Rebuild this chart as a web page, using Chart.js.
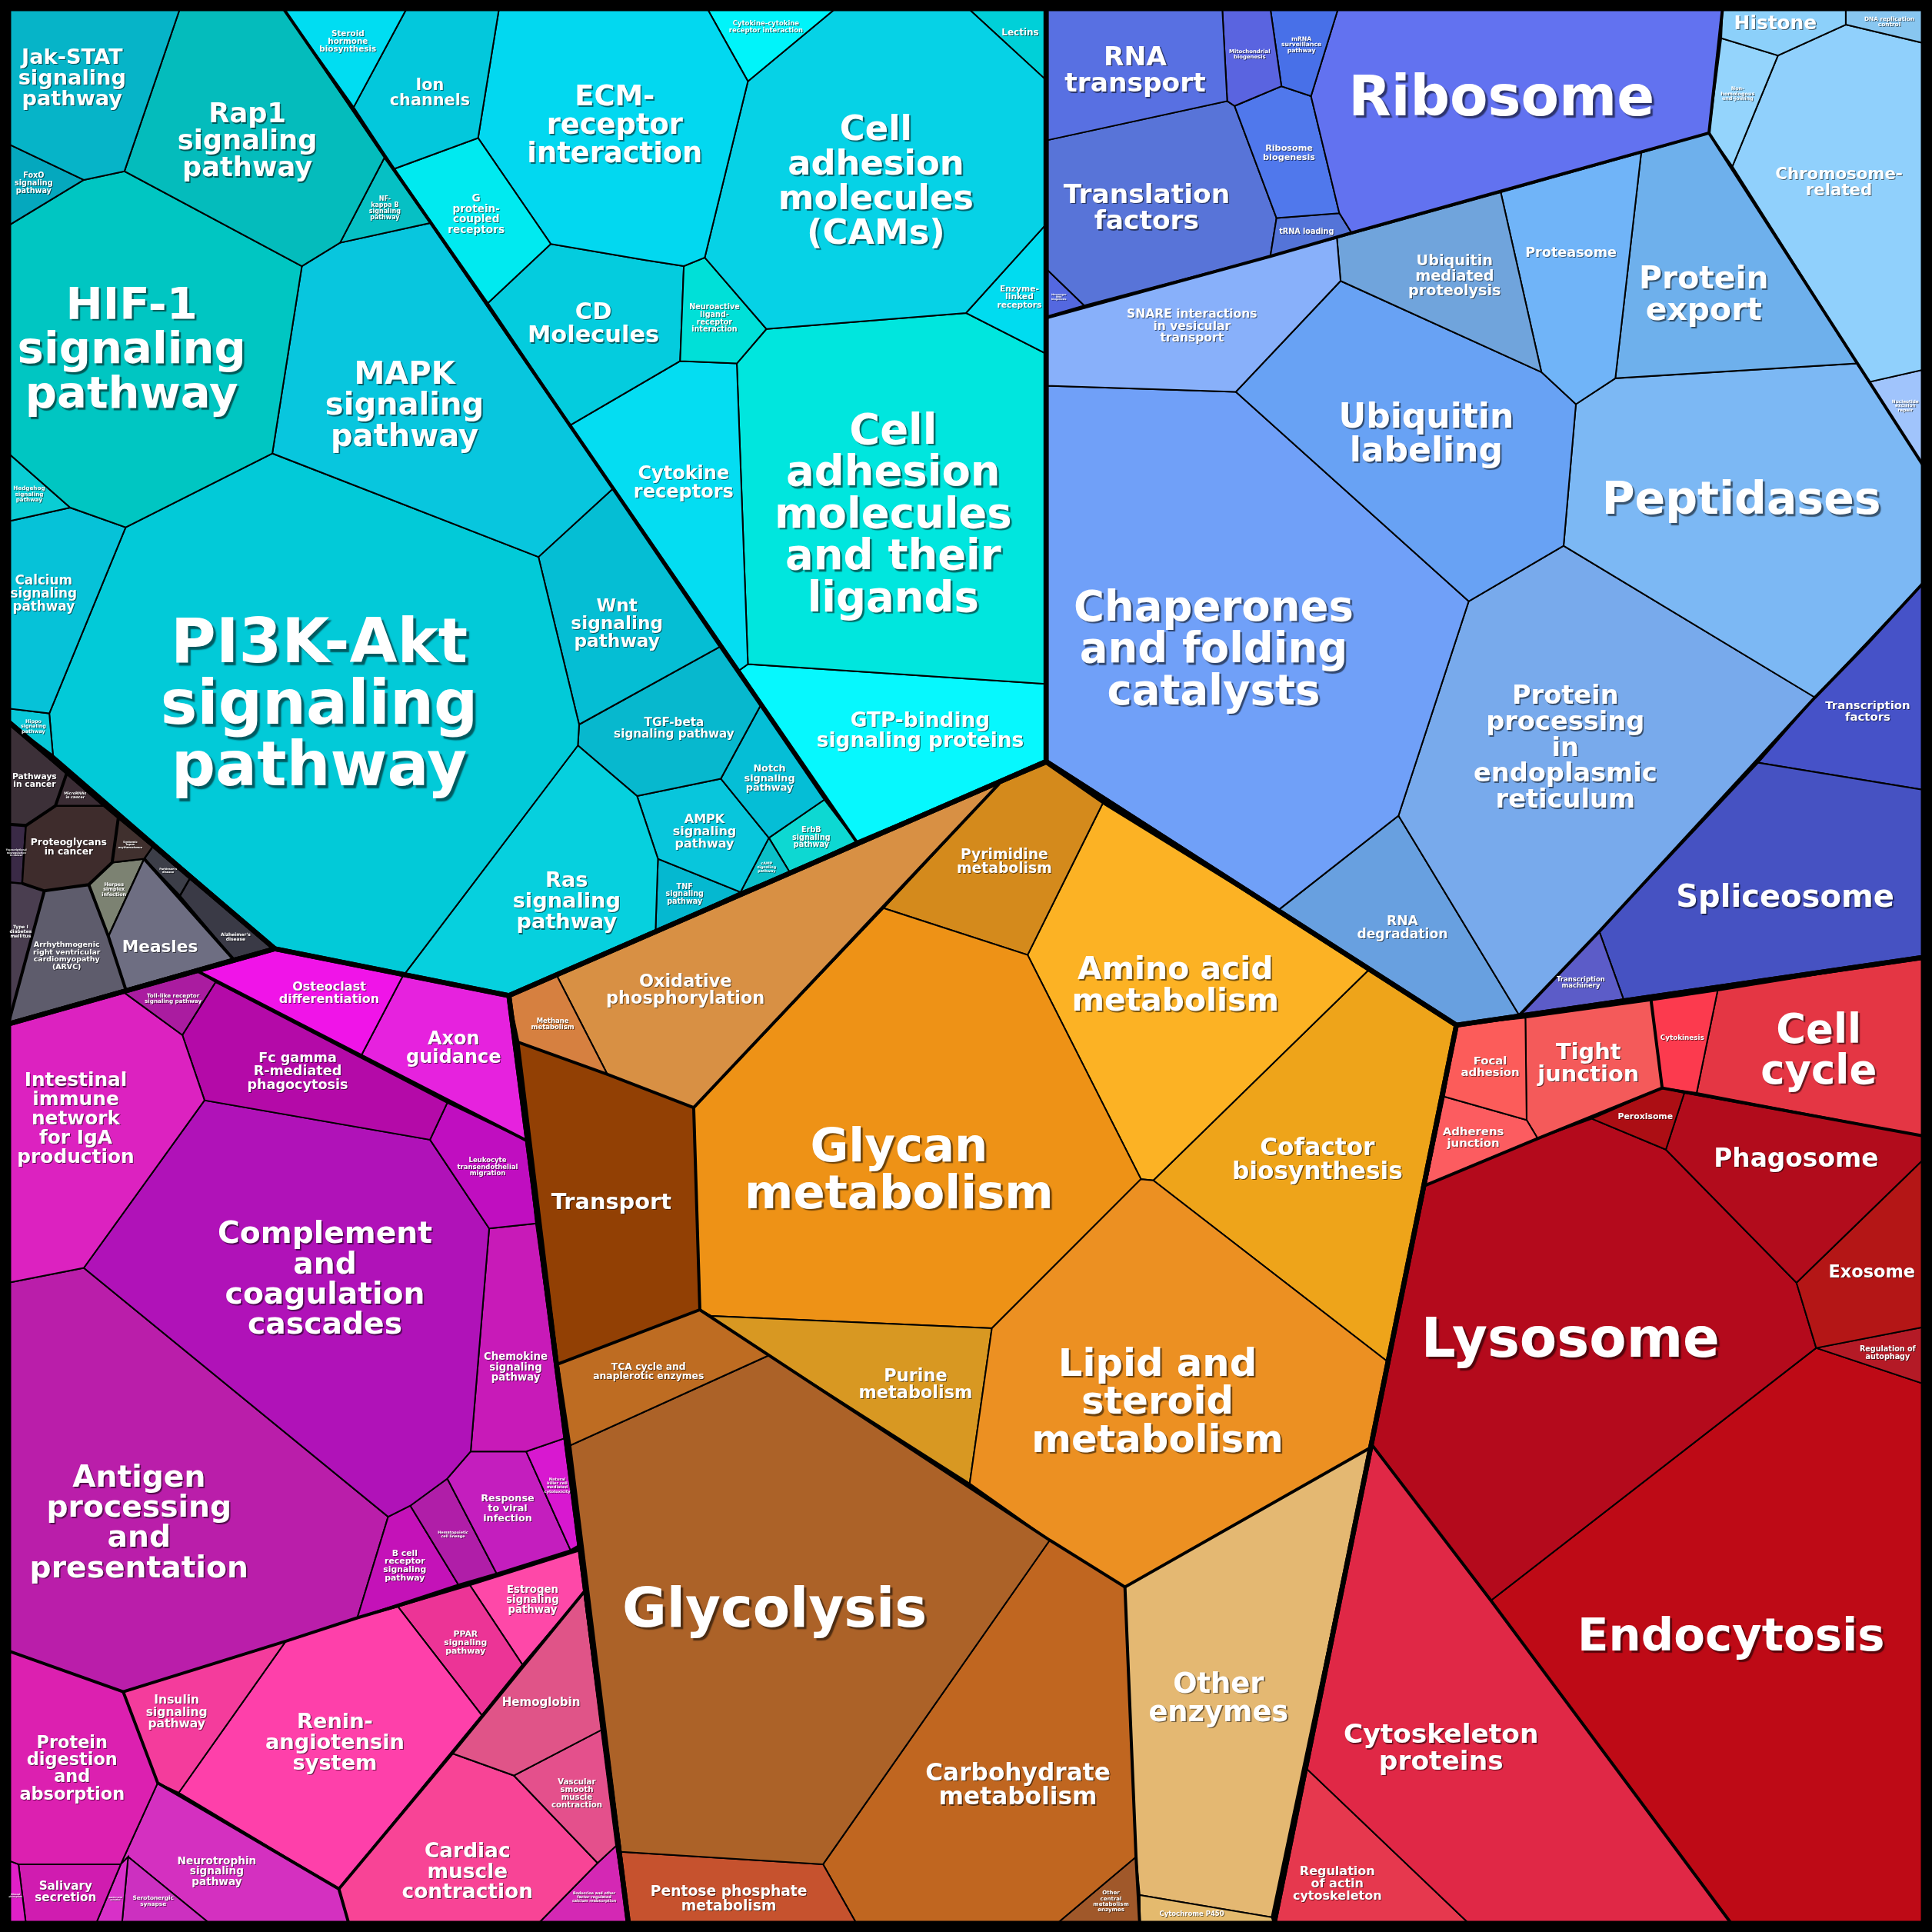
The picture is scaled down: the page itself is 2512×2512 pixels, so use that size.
<!DOCTYPE html>
<html>
<head>
<meta charset="utf-8">
<script src="https://cdn.jsdelivr.net/npm/chart.js@4.4.0/dist/chart.umd.min.js"></script>
<style>
html, body { margin: 0; padding: 0; background: #000; }
#wrap { width: 2512px; height: 2512px; }
</style>
</head>
<body>
<div id="wrap"><canvas id="map"></canvas></div>
<script>
// map units: the whole picture is 1568 x 1568, y grows downwards

// ---- signaling pathways ----
const signalingNames = [
  "Jak-STAT\nsignaling\npathway", "FoxO\nsignaling\npathway", "Rap1\nsignaling\npathway",
  "NF-\nkappa B\nsignaling\npathway", "HIF-1\nsignaling\npathway", "MAPK\nsignaling\npathway",
  "Hedgehog\nsignaling\npathway", "Calcium\nsignaling\npathway", "Hippo\nsignaling\npathway",
  "PI3K-Akt\nsignaling\npathway", "Wnt\nsignaling\npathway", "Ras\nsignaling\npathway",
  "TGF-beta\nsignaling pathway", "Notch\nsignaling\npathway", "AMPK\nsignaling\npathway",
  "TNF\nsignaling\npathway", "cAMP\nsignaling\npathway", "ErbB\nsignaling\npathway",
  "Steroid\nhormone\nbiosynthesis", "Ion\nchannels", "G\nprotein-\ncoupled\nreceptors",
  "ECM-\nreceptor\ninteraction", "Cytokine-cytokine\nreceptor interaction", "Cell\nadhesion\nmolecules\n(CAMs)",
  "Lectins", "Enzyme-\nlinked\nreceptors", "Neuroactive\nligand-\nreceptor\ninteraction",
  "CD\nMolecules", "Cytokine\nreceptors", "Cell\nadhesion\nmolecules\nand their\nligands",
  "GTP-binding\nsignaling proteins"
];
const signalingCells = [
  [[7,7],[146,7],[101,139],[68,146],[7,117]],
  [[7,117],[68,146],[7,183]],
  [[146,7],[230,7],[312,128],[276,197],[245,216],[101,139]],
  [[312,128],[349,181],[276,197]],
  [[7,183],[68,146],[101,139],[245,216],[221,368],[102,428],[57,412],[7,368]],
  [[245,216],[276,197],[349,181],[497,397],[437,452],[221,368]],
  [[7,368],[57,412],[7,423]],
  [[7,423],[57,412],[102,428],[63,523],[40,579],[7,575]],
  [[7,575],[40,579],[43,613],[7,586]],
  [[102,428],[221,368],[437,452],[470,588],[469,605],[328,791],[224,770],[43,613],[40,579],[63,523]],
  [[437,452],[497,397],[584,525],[470,588]],
  [[469,605],[517,646],[534,697],[532,756],[413,808],[328,791]],
  [[470,588],[584,525],[617,573],[585,632],[517,646],[469,605]],
  [[617,573],[669,649],[624,680],[585,632]],
  [[517,646],[585,632],[624,680],[601,724],[534,697]],
  [[534,697],[601,724],[532,756]],
  [[624,680],[641,708],[601,724]],
  [[624,680],[669,649],[695,683],[641,708]],
  [[230,7],[330,7],[287,87]],
  [[330,7],[405,7],[388,112],[320,137],[287,87]],
  [[320,137],[388,112],[447,198],[396,246]],
  [[405,7],[574,7],[607,66],[572,209],[555,216],[523,211],[447,198],[388,112]],
  [[574,7],[678,7],[607,66]],
  [[678,7],[786,7],[849,65],[849,182],[784,254],[622,267],[572,209],[607,66]],
  [[786,7],[849,7],[849,65]],
  [[849,182],[849,287],[784,254]],
  [[572,209],[622,267],[598,295],[552,293],[555,216]],
  [[396,246],[447,198],[523,211],[555,216],[552,293],[463,345]],
  [[463,345],[552,293],[598,295],[607,539],[600,544]],
  [[598,295],[622,267],[784,254],[849,287],[849,555],[607,539]],
  [[607,539],[849,555],[849,618],[695,683],[600,544]]
];

// ---- human diseases ----
const diseaseNames = [
  "Pathways\nin cancer", "MicroRNAs\nin cancer", "Proteoglycans\nin cancer",
  "Transcriptional\nmisregulation\nin cancer", "Systemic\nlupus\nerythematosus", "Parkinson's\ndisease",
  "Alzheimer's\ndisease", "Measles", "Herpes\nsimplex\ninfection",
  "Arrhythmogenic\nright ventricular\ncardiomyopathy\n(ARVC)", "Type I\ndiabetes\nmellitus"
];
const diseaseCells = [
  [[7,586],[54,628],[45,654],[21,670],[7,669]],
  [[54,628],[84,654],[45,654]],
  [[21,670],[45,654],[84,654],[96,664],[91,700],[72,718],[36,723],[18,717]],
  [[7,669],[21,670],[18,717],[7,716]],
  [[96,664],[124,687],[117,697],[91,700]],
  [[117,697],[124,687],[154,713],[146,727]],
  [[146,727],[154,713],[223,770],[189,778]],
  [[117,697],[146,727],[189,778],[102,803],[88,760]],
  [[72,718],[91,700],[117,697],[88,760]],
  [[36,723],[72,718],[88,760],[102,803],[7,830]],
  [[7,716],[18,717],[36,723],[7,830]]
];

// ---- organismal systems ----
const systemNames = [
  "Toll-like receptor\nsignaling pathway", "Intestinal\nimmune\nnetwork\nfor IgA\nproduction", "Osteoclast\ndifferentiation",
  "Axon\nguidance", "Fc gamma\nR-mediated\nphagocytosis", "Leukocyte\ntransendothelial\nmigration",
  "Complement\nand\ncoagulation\ncascades", "Chemokine\nsignaling\npathway", "Natural\nkiller cell\nmediated\ncytotoxicity",
  "Response\nto viral\ninfection", "Hematopoietic\ncell lineage", "B cell\nreceptor\nsignaling\npathway",
  "Antigen\nprocessing\nand\npresentation", "Protein\ndigestion\nand\nabsorption", "Mineral\nabsorption",
  "Salivary\nsecretion", "Gastric acid\nsecretion", "Serotonergic\nsynapse",
  "Neurotrophin\nsignaling\npathway", "Insulin\nsignaling\npathway", "Renin-\nangiotensin\nsystem",
  "PPAR\nsignaling\npathway", "Estrogen\nsignaling\npathway", "Hemoglobin",
  "Vascular\nsmooth\nmuscle\ncontraction", "Cardiac\nmuscle\ncontraction",
  "Endocrine and other\nfactor-regulated\ncalcium reabsorption"
];
const systemCells = [
  [[100,805],[160,788],[175,797],[148,840]],
  [[7,831],[100,805],[148,840],[166,893],[68,1029],[7,1041]],
  [[160,788],[223,770],[327,792],[293,857],[175,797]],
  [[327,792],[413,808],[428,926],[293,857]],
  [[148,840],[175,797],[363,895],[349,925],[166,893]],
  [[349,925],[363,895],[428,926],[435,993],[397,997]],
  [[166,893],[349,925],[397,997],[382,1178],[363,1200],[333,1222],[315,1231],[68,1029]],
  [[397,997],[435,993],[459,1167],[427,1178],[382,1178]],
  [[427,1178],[459,1167],[470,1254],[463,1258]],
  [[382,1178],[427,1178],[463,1258],[403,1277],[363,1200]],
  [[333,1222],[363,1200],[403,1277],[372,1286]],
  [[315,1231],[333,1222],[372,1286],[290,1313]],
  [[7,1041],[68,1029],[315,1231],[290,1313],[232,1332],[100,1373],[7,1340]],
  [[7,1340],[100,1373],[128,1447],[98,1513],[15,1513],[7,1510]],
  [[7,1510],[15,1513],[21,1561],[7,1561]],
  [[15,1513],[98,1513],[78,1561],[21,1561]],
  [[98,1513],[104,1507],[99,1561],[78,1561]],
  [[104,1507],[170,1561],[99,1561]],
  [[98,1513],[128,1447],[275,1533],[283,1561],[170,1561],[104,1507]],
  [[100,1373],[232,1332],[145,1455],[128,1447]],
  [[145,1455],[232,1332],[290,1313],[323,1304],[391,1392],[275,1533]],
  [[323,1304],[381,1286],[424,1351],[391,1392]],
  [[381,1286],[473,1257],[474,1292],[424,1351]],
  [[424,1351],[474,1292],[488,1404],[417,1441],[367,1423],[391,1392]],
  [[417,1441],[488,1404],[500,1498],[485,1512]],
  [[275,1533],[367,1423],[417,1441],[485,1512],[437,1561],[283,1561]],
  [[485,1512],[500,1498],[510,1561],[437,1561]]
];

// ---- metabolism ----
const metabolismNames = [
  "Methane\nmetabolism", "Oxidative\nphosphorylation", "Transport",
  "TCA cycle and\nanaplerotic enzymes", "Glycolysis", "Pentose phosphate\nmetabolism",
  "Carbohydrate\nmetabolism", "Other\ncentral\nmetabolism\nenzymes", "Cytochrome P450",
  "Other\nenzymes", "Lipid and\nsteroid\nmetabolism", "Purine\nmetabolism",
  "Glycan\nmetabolism", "Pyrimidine\nmetabolism", "Amino acid\nmetabolism",
  "Cofactor\nbiosynthesis"
];
const metabolismCells = [
  [[413,808],[452,792],[493,872],[421,846]],
  [[452,792],[811,636],[717,737],[563,899],[493,872]],
  [[421,846],[493,872],[563,899],[568,1063],[453,1107]],
  [[453,1107],[568,1063],[624,1100],[463,1173]],
  [[463,1173],[624,1100],[852,1250],[668,1513],[504,1503]],
  [[504,1503],[668,1513],[695,1561],[510,1561]],
  [[668,1513],[852,1250],[913,1288],[922,1507],[858,1561],[695,1561]],
  [[922,1507],[925,1561],[858,1561]],
  [[925,1538],[1032,1556],[1034,1561],[925,1561]],
  [[913,1288],[1112,1175],[1032,1556],[925,1538],[922,1507]],
  [[805,1078],[926,957],[936,958],[1126,1105],[1112,1175],[913,1288],[852,1250],[787,1204]],
  [[568,1063],[577,1068],[805,1078],[787,1204],[624,1100]],
  [[563,899],[717,737],[834,775],[926,957],[805,1078],[577,1068],[568,1063]],
  [[717,737],[811,636],[849,620],[895,652],[834,775]],
  [[834,775],[895,652],[1112,786],[936,958],[926,957]],
  [[936,958],[1112,786],[1182,832],[1126,1105]]
];

// ---- genetic information processing ----
const geneticNames = [
  "RNA\ntransport", "Mitochondrial\nbiogenesis", "mRNA\nsurveillance\npathway",
  "Ribosome", "Ribosome\nbiogenesis", "tRNA loading",
  "Translation\nfactors", "Messenger\nRNA\nbiogenesis", "SNARE interactions\nin vesicular\ntransport",
  "Ubiquitin\nmediated\nproteolysis", "Proteasome", "Protein\nexport",
  "Ubiquitin\nlabeling", "Peptidases", "Chaperones\nand folding\ncatalysts",
  "Protein\nprocessing\nin\nendoplasmic\nreticulum", "RNA\ndegradation", "Transcription\nmachinery",
  "Spliceosome", "Transcription\nfactors", "Histone",
  "DNA replication\ncontrol", "Non-\nhomologous\nend-joining", "Chromosome-\nrelated",
  "Nucleotide\nexcision\nrepair"
];
const geneticCells = [
  [[849,7],[992,7],[996,82],[849,114]],
  [[992,7],[1031,7],[1040,70],[1002,86],[996,82]],
  [[1031,7],[1086,7],[1064,78],[1040,70]],
  [[1086,7],[1398,7],[1387,108],[1097,189],[1087,173],[1064,78]],
  [[1002,86],[1040,70],[1064,78],[1087,173],[1036,177]],
  [[1036,177],[1087,173],[1097,189],[1031,208]],
  [[849,114],[996,82],[1002,86],[1036,177],[1031,208],[880,248],[849,218]],
  [[849,218],[880,248],[849,257]],
  [[849,257],[1085,193],[1088,228],[1003,318],[849,313]],
  [[1085,193],[1218,156],[1251,302],[1088,228]],
  [[1218,156],[1332,124],[1311,307],[1279,328],[1251,302]],
  [[1332,124],[1387,108],[1507,295],[1311,307]],
  [[1003,318],[1088,228],[1251,302],[1279,328],[1269,443],[1192,488]],
  [[1279,328],[1311,307],[1507,295],[1561,378],[1561,473],[1473,566],[1269,443]],
  [[849,313],[1003,318],[1192,488],[1135,662],[1037,739],[849,618]],
  [[1192,488],[1269,443],[1473,566],[1298,756],[1233,824],[1135,662]],
  [[1135,662],[1233,824],[1182,832],[1037,739]],
  [[1233,824],[1298,756],[1318,812]],
  [[1298,756],[1427,619],[1561,641],[1561,777],[1318,812]],
  [[1427,619],[1473,566],[1515,523],[1561,473],[1561,641]],
  [[1398,7],[1498,7],[1498,20],[1443,45],[1397,31]],
  [[1498,7],[1561,7],[1561,35],[1498,20]],
  [[1397,31],[1443,45],[1406,135],[1387,108]],
  [[1443,45],[1498,20],[1561,35],[1561,300],[1517,310],[1406,135]],
  [[1517,310],[1561,300],[1561,378]]
];

// ---- cellular processes ----
const cellularNames = [
  "Focal\nadhesion", "Adherens\njunction", "Tight\njunction",
  "Cytokinesis", "Cell\ncycle", "Peroxisome",
  "Phagosome", "Exosome", "Regulation of\nautophagy",
  "Lysosome", "Endocytosis", "Cytoskeleton\nproteins",
  "Regulation\nof actin\ncytoskeleton"
];
const cellularCells = [
  [[1182,832],[1238,826],[1239,909],[1172,890]],
  [[1172,890],[1239,909],[1248,924],[1157,962]],
  [[1238,826],[1340,812],[1349,883],[1248,924],[1239,909]],
  [[1340,812],[1394,804],[1377,887],[1349,883]],
  [[1394,804],[1561,777],[1561,922],[1377,887]],
  [[1292,908],[1349,883],[1367,887],[1352,933]],
  [[1367,887],[1561,922],[1561,941],[1458,1041],[1352,933]],
  [[1458,1041],[1561,941],[1561,1077],[1474,1094]],
  [[1474,1094],[1561,1077],[1561,1123]],
  [[1157,962],[1248,924],[1292,908],[1352,933],[1458,1041],[1474,1094],[1210,1299],[1113,1172]],
  [[1474,1094],[1561,1123],[1561,1561],[1405,1561],[1210,1299]],
  [[1113,1172],[1210,1299],[1405,1561],[1192,1561],[1060,1435]],
  [[1060,1435],[1192,1561],[1034,1561]]
];

// top level outlines and second level boundaries
const groupOutlines = [
  [[7,7],[849,7],[849,618],[413,808],[223,770],[7,586]],
  [[7,586],[223,770],[7,831]],
  [[7,831],[223,770],[413,808],[510,1561],[7,1561]],
  [[413,808],[849,618],[1182,832],[1034,1561],[510,1561]],
  [[849,7],[1561,7],[1561,777],[1182,832],[849,618]],
  [[1182,832],[1561,777],[1561,1561],[1034,1561]]
];
const subBoundaries = [
  [[230,7],[695,683]],
  [[7,669],[21,670],[45,654],[54,628]],
  [[18,717],[36,723],[72,718],[91,700],[96,664]],
  [[36,723],[7,830]],
  [[72,718],[88,760],[102,803]],
  [[117,697],[189,778]],
  [[160,788],[428,926]],
  [[7,1340],[100,1373],[232,1332],[290,1313],[381,1286],[473,1257]],
  [[100,1373],[128,1447],[275,1533],[283,1561]],
  [[275,1533],[367,1423],[474,1292]],
  [[421,846],[493,872],[563,899],[811,636]],
  [[563,899],[568,1063]],
  [[453,1107],[568,1063],[852,1250],[913,1288],[1112,1175]],
  [[913,1288],[922,1507],[925,1561]],
  [[849,258],[1031,208],[1097,189],[1387,108],[1398,7]],
  [[1387,108],[1561,378]],
  [[1233,824],[1298,756],[1473,566],[1515,523],[1561,473]],
  [[1157,962],[1248,924],[1349,883],[1340,812]],
  [[1349,883],[1561,922]],
  [[1113,1172],[1210,1299],[1405,1561]]
];

// ---- styles ----
const signalingColors = ['#06b4c8','#05a8be','#04bcbc','#06c0c4','#00c6c2','#08c6de','#0acdd4','#06c2d8','#08c8d8',
  '#02cad8','#05bed4','#06d0de','#07b8ce','#05bed6','#08c6dc','#05b8d0','#0bbfc8','#0dd8d2',
  '#00ddf2','#03c8dc','#00eaf0','#02d8f0','#00f4fa','#06d2e6','#00d0d8','#00dcf0','#00e0d8',
  '#04ccde','#04ddf2','#00e6de','#06f8fe'];
const signalingFonts = [17,6,22,5,36,25,4.5,10.5,4,50,14.5,17,9.5,8,10,6,3,6,6.5,13,8.5,23,5.3,28,7.5,6.7,6,19,15,34,16.5];

const diseaseColors = ['#3c3038','#3a2c34','#3e2c2c','#3a2a46','#40302e','#3c3e48','#3a3a46','#6e6e82','#7c8272','#5e5c6c','#4a3e50'];
const diseaseFonts = [6.7,3,7.7,2,2.3,2.2,3.7,13.5,4,5.9,3.7];

const systemColors = ['#aa1ca0','#dc22c0','#f014e8','#e622de','#b40aa8','#c00ec0','#b012b8','#c81ab8','#d818d0',
  '#c41ebe','#b01ea8','#c412b8','#ba1eaa','#dc20b0','#e020c8','#d01cb0','#d830c8','#cc30c0',
  '#d430c0','#f43c9c','#fe40aa','#ec3496','#fe48a8','#e05488','#e4508c','#f84496','#d428b4'];
const systemFonts = [4.5,15.5,10,15,11,5.3,24.5,8.3,3.2,8,3,6.8,24.5,14,1.8,9.5,1.6,4.6,8.5,9.7,17,6.8,8.3,9.4,6.4,16.5,3];

const metabolismColors = ['#d68040','#d89044','#924004','#be6c22','#ac6228','#c6522e','#c06620','#a0582a','#e4ba6e',
  '#e4b872','#ec9022','#d89822','#ee9216','#d48a1c','#fcb224','#eea41a'];
const metabolismFonts = [5.3,14,18,7.7,44,11.7,19.5,4.4,5.3,23,31,14,38,11.7,25.5,19.5];

const geneticColors = ['#5870e2','#5a64e0','#4870e8','#6272f0','#5078ec','#5474d8','#5874d8','#5468e0','#88b0fa',
  '#70a4dc','#70b4f8','#6eb0ec','#68a2f4','#7cb8f4','#70a0f8','#78aaec','#68a0e0','#5c5cc8',
  '#4652c2','#4652c8','#8cd0fa','#88c6f0','#94d4fc','#90d0fc','#a0c4fc'];
const geneticFonts = [21.5,4.3,4.8,45,7,6,21.5,2,9.7,12,11,25.5,27.5,36.5,34,21,10.7,5.3,25,9.3,15.5,4.6,4,13.3,3.6];

const cellularColors = ['#fc5c5a','#fc5c60','#f45a5a','#fc3a4e','#e43644','#ac0e14','#b20c1c','#b41616','#b41a26',
  '#b40a1c','#be0a16','#e02846','#e6384e'];
const cellularFonts = [9.3,9.3,18,5.5,33,6.8,20.5,14,6,44,37,21.5,10];

// label nudges away from the cell centroid, map units
const labelNudge = {
  "Oxidative\nphosphorylation": [-45, 22],
  "Cytoskeleton\nproteins": [-29, 2],
  "Endocytosis": [-26, -8],
  "Antigen\nprocessing\nand\npresentation": [-16, 17],
  "MAPK\nsignaling\npathway": [-18, 8],
  "Glycan\nmetabolism": [-3, 23],
  "Chaperones\nand folding\ncatalysts": [-14, 12],
  "Complement\nand\ncoagulation\ncascades": [6, -6],
  "Rap1\nsignaling\npathway": [-6, 7],
  "Jak-STAT\nsignaling\npathway": [-9, -4],
  "Cell\nadhesion\nmolecules\n(CAMs)": [-5, 9],
  "Cell\nadhesion\nmolecules\nand their\nligands": [-2, 13],
  "GTP-binding\nsignaling proteins": [15, -5],
  "Ion\nchannels": [0, 8],
  "Calcium\nsignaling\npathway": [-7, -3],
  "Peptidases": [-10, -6],
  "Protein\nexport": [-7, 14],
  "Proteasome": [-4, -13],
  "Phagosome": [5, -11],
  "Other\nenzymes": [-12, 4],
  "Carbohydrate\nmetabolism": [7, 12],
  "Lipid and\nsteroid\nmetabolism": [-5, 9],
  "Cofactor\nbiosynthesis": [-11, 3],
  "Purine\nmetabolism": [21, 7],
  "Ras\nsignaling\npathway": [11, 10],
  "Wnt\nsignaling\npathway": [0, 11],
  "Osteoclast\ndifferentiation": [13, 0],
  "Cardiac\nmuscle\ncontraction": [0, 13],
  "Insulin\nsignaling\npathway": [-13, 0],
  "Chemokine\nsignaling\npathway": [0, 14],
  "Measles": [0, 11],
  "Alzheimer's\ndisease": [10, 11],
  "Spliceosome": [5, 8],
  "Protein\nprocessing\nin\nendoplasmic\nreticulum": [-9, -8],
  "Intestinal\nimmune\nnetwork\nfor IgA\nproduction": [-10, -5],
  "HIF-1\nsignaling\npathway": [-8, 2],
  "Neurotrophin\nsignaling\npathway": [-8, 2],
  "Cell\ncycle": [-5, 4],
  "Chromosome-\nrelated": [-8, -3],
  "Translation\nfactors": [-6, 4],
  "RNA\ntransport": [4, 4],
  "Regulation\nof actin\ncytoskeleton": [-10, 10],
  "Pentose phosphate\nmetabolism": [0, 6],
  "Ubiquitin\nmediated\nproteolysis": [5, 2],
  "Cytokine-cytokine\nreceptor interaction": [2, -5],
  "Histone": [-3, -3]
};

const groups = [
  {names: signalingNames, cells: signalingCells, colors: signalingColors, fonts: signalingFonts, edge: 2},
  {names: diseaseNames, cells: diseaseCells, colors: diseaseColors, fonts: diseaseFonts, edge: 2.4},
  {names: systemNames, cells: systemCells, colors: systemColors, fonts: systemFonts, edge: 2},
  {names: metabolismNames, cells: metabolismCells, colors: metabolismColors, fonts: metabolismFonts, edge: 2},
  {names: geneticNames, cells: geneticCells, colors: geneticColors, fonts: geneticFonts, edge: 2},
  {names: cellularNames, cells: cellularCells, colors: cellularColors, fonts: cellularFonts, edge: 2}
];

const cells = [];
groups.forEach(g => g.cells.forEach((poly, i) => {
  cells.push({name: g.names[i], poly: poly, color: g.colors[i], font: g.fonts[i], edge: g.edge});
}));

function toPoints(poly, closed) {
  const pts = poly.map(p => ({x: p[0], y: p[1]}));
  if (closed) pts.push({x: poly[0][0], y: poly[0][1]});
  return pts;
}

function centroid(poly) {
  let a = 0, cx = 0, cy = 0;
  for (let i = 0; i < poly.length; i++) {
    const [x0, y0] = poly[i];
    const [x1, y1] = poly[(i + 1) % poly.length];
    const f = x0 * y1 - x1 * y0;
    a += f;
    cx += (x0 + x1) * f;
    cy += (y0 + y1) * f;
  }
  a *= 0.5;
  return [cx / (6 * a), cy / (6 * a)];
}

function spanAt(poly, y) {
  const xs = [];
  for (let i = 0; i < poly.length; i++) {
    const [x0, y0] = poly[i];
    const [x1, y1] = poly[(i + 1) % poly.length];
    if ((y0 <= y && y1 > y) || (y1 <= y && y0 > y)) {
      xs.push(x0 + (y - y0) * (x1 - x0) / (y1 - y0));
    }
  }
  return xs.length ? [Math.min(...xs), Math.max(...xs)] : [0, 0];
}

const datasets = [];
groupOutlines.forEach(poly => datasets.push({
  data: toPoints(poly, true), borderColor: '#000', borderWidth: 6.5,
  fill: false, pointRadius: 0, tension: 0, order: 0
}));
subBoundaries.forEach(line => datasets.push({
  data: toPoints(line, false), borderColor: '#000', borderWidth: 4,
  fill: false, pointRadius: 0, tension: 0, order: 1
}));
cells.forEach(c => datasets.push({
  data: toPoints(c.poly, true), borderColor: '#000', borderWidth: c.edge,
  backgroundColor: c.color, fill: 'shape', pointRadius: 0, tension: 0, order: 2
}));

const cellLabels = {
  id: 'cellLabels',
  afterDatasetsDraw(chart) {
    const {ctx} = chart;
    const xs = chart.scales.x, ys = chart.scales.y;
    const unit = xs.getPixelForValue(1) - xs.getPixelForValue(0);
    ctx.save();
    ctx.textAlign = 'center';
    ctx.textBaseline = 'middle';
    ctx.fillStyle = '#fff';
    cells.forEach(c => {
      const lines = c.name.split('\n');
      const px = c.font * unit;
      ctx.font = 'bold ' + px + 'px "DejaVu Sans"';
      const hw = Math.max(...lines.map(l => ctx.measureText(l).width)) / unit / 2;
      let [cx, cy] = centroid(c.poly);
      const [xl, xr] = spanAt(c.poly, cy);
      if (xr - xl > 2 * hw + 6) {
        cx = Math.min(Math.max(cx, xl + hw + 3), xr - hw - 3);
      }
      const nudge = labelNudge[c.name];
      if (nudge) {
        cx += nudge[0];
        cy += nudge[1];
      }
      ctx.shadowColor = 'rgba(0,0,0,0.55)';
      ctx.shadowOffsetX = Math.max(1, px * 0.045);
      ctx.shadowOffsetY = Math.max(1, px * 0.045);
      ctx.shadowBlur = px * 0.02;
      lines.forEach((l, i) => {
        const ly = cy + (i - (lines.length - 1) / 2) * c.font;
        ctx.fillText(l, xs.getPixelForValue(cx), ys.getPixelForValue(ly) + px * 0.04);
      });
    });
    ctx.restore();
  }
};

new Chart(document.getElementById('map'), {
  type: 'line',
  data: {datasets: datasets},
  options: {
    responsive: true,
    maintainAspectRatio: false,
    devicePixelRatio: 1,
    animation: false,
    layout: {autoPadding: false, padding: 0},
    scales: {
      x: {type: 'linear', min: 0, max: 1568, display: false},
      y: {type: 'linear', min: 0, max: 1568, reverse: true, display: false}
    },
    plugins: {
      legend: {display: false},
      tooltip: {enabled: false}
    }
  },
  plugins: [cellLabels]
});
</script>
</body>
</html>
